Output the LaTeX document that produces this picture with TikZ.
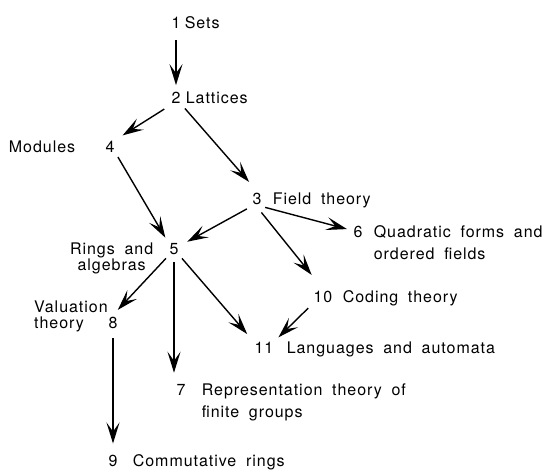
\documentclass[tikz,border=0pt]{standalone}
\usepackage{fontspec}
\newfontfamily\diagfont{TeX Gyre Heros}[LetterSpace=6,WordSpace=1.8]
\usetikzlibrary{arrows.meta,positioning}

\tikzset{
  num/.style={inner sep=2pt, font=\diagfont\fontsize{16pt}{19pt}\selectfont},
  lbl/.style={inner sep=0pt, align=left, font=\diagfont\fontsize{16pt}{22pt}\selectfont},
  lbltight/.style={lbl, font=\diagfont\fontsize{16pt}{16.5pt}\selectfont},
  link/.style={-{Stealth[length=21pt,width=13pt,inset=9pt]}, line width=1.4pt},
}

\begin{document}
\begin{tikzpicture}[x=1pt, y=-1pt]
    \useasboundingbox (0,0) rectangle (544,470);

    \node[num] (n1) at (176,23) {1};
    \node[num] (n2) at (176,98) {2};
    \node[num] (n3) at (257,199) {3};
    \node[num] (n4) at (110,147) {4};
    \node[num] (n5) at (174,249) {5};
    \node[num] (n6) at (358,232) {6};
    \node[num] (n7) at (181,390) {7};
    \node[num] (n8) at (113,323) {8};
    \node[num] (n9) at (113,461) {9};
    \node[num] (n10) at (323,297) {10};
    \node[num] (n11) at (264,348) {11};

    \node[lbl, right=2pt of n1.base east, anchor=base west] (sets) {Sets};
    \node[lbl, right=3pt of n2.base east, anchor=base west] (lattices) {Lattices};
    \node[lbl, right=9pt of n3.base east, anchor=base west] (field) {Field theory};
    \node[lbl, left=28pt of n4.base west, anchor=base east] (modules) {Modules};
    \node[lbltight, align=center, left=14pt of n5.base west, anchor=base east, yshift=-16.5pt] (rings) {Rings and\\algebras};
    \node[lbl, right=9pt of n6.base east, anchor=base west, yshift=-22pt] (quadratic) {Quadratic forms and\\ordered fields};
    \node[lbl, right=14pt of n7.base east, anchor=base west, yshift=-22pt] (representation) {Representation theory of\\finite groups};
    \node[lbltight, left=-1.5pt of n8.base west, anchor=base east] (valuation) {Valuation\\theory};
    \node[lbl, right=13pt of n9.base east, anchor=base west] (commutative) {Commutative rings};
    \node[lbl, right=8pt of n10.base east, anchor=base west] (coding) {Coding theory};
    \node[lbl, right=11pt of n11.base east, anchor=base west] (languages) {Languages and automata};

    \draw[link, shorten <=9pt, shorten >=5pt] (n1.south) -- (n2.north);
    \draw[link, shorten <=6pt, shorten >=7pt] (n2.south west) -- (n4.north east);
    \draw[link, shorten <=3.5pt, shorten >=12pt] (n2.south east) -- (n3.north);
    \draw[link, shorten <=2.5pt, shorten >=4pt] (n4.south east) -- (n5.north west);
    \draw[link, shorten <=4pt, shorten >=7.5pt] (n3.south west) -- (n5);
    \draw[link, shorten <=1.5pt, shorten >=4.5pt] (n3.south east) -- (n6);
    \draw[link, shorten <=7pt, shorten >=18pt] (n3.south) -- (n10.north);
    \draw[link, shorten <=2pt, shorten >=7pt] (n5.south west) -- (n8.north);
    \draw[link, shorten <=5.5pt, shorten >=9.5pt] (n5.south) -- (n5.south |- n7.north);
    \draw[link, shorten <=2pt, shorten >=8pt] (n5.south east) -- (n11.north west);
    \draw[link, shorten <=4.5pt, shorten >=4pt] (n10.south west) -- (n11.north east);
    \draw[link, shorten <=7.5pt, shorten >=9.5pt] (n8.south) -- (n9.north);
\end{tikzpicture}
\end{document}
